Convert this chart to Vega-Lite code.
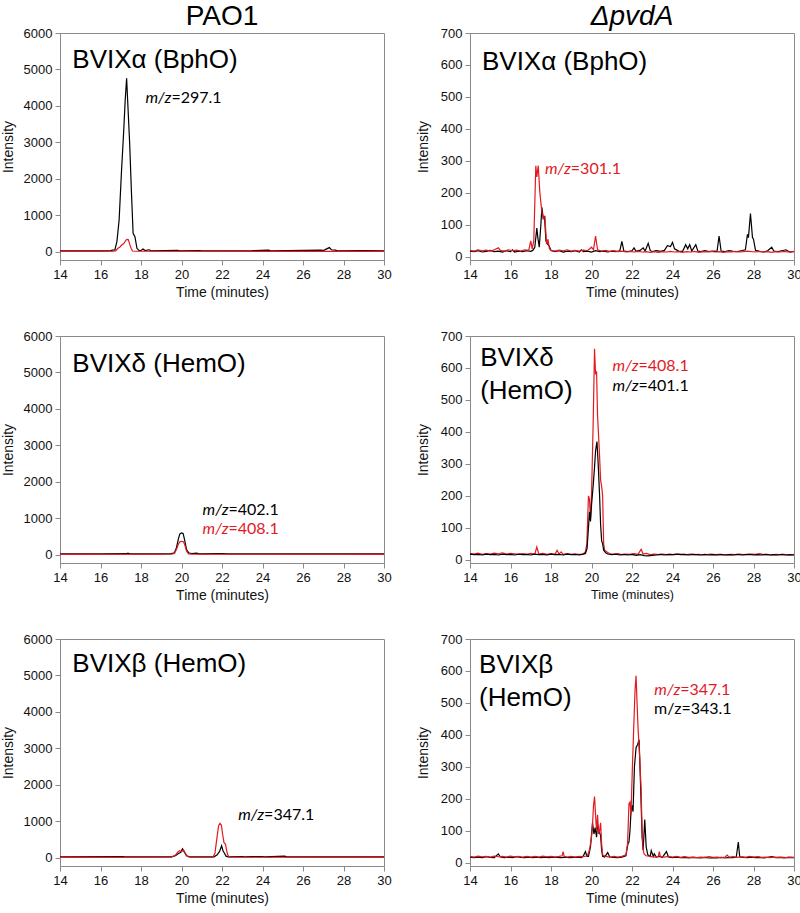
{
"$schema": "https://vega.github.io/schema/vega-lite/v6.json",
"background": "white",
"padding": {"left": 0, "top": 2, "right": 2, "bottom": 2},
"config": {
  "view": {"stroke": "#8a8a8a", "strokeWidth": 1},
  "axis": {"grid": false, "domainColor": "#8a8a8a", "tickColor": "#8a8a8a", "tickSize": 5, "labelFont": "Liberation Sans", "labelFontSize": 13, "labelColor": "#111", "titleFont": "Liberation Sans", "titleFontSize": 14, "titleFontWeight": "normal", "titleColor": "#111", "labelPadding": 3, "titlePadding": 8, "labelOverlap": false},
  "axisX": {"titlePadding": 4},
  "title": {"font": "Liberation Sans", "fontSize": 28, "fontWeight": "normal", "color": "#000", "anchor": "middle", "offset": -4}
},
"datasets": {
  "a1k": [{"t":14,"v":30},{"t":15,"v":30},{"t":16,"v":32},{"t":16.5,"v":35},{"t":16.6,"v":50},{"t":16.71,"v":55},{"t":16.81,"v":283},{"t":16.92,"v":877},{"t":17.04,"v":2247},{"t":17.14,"v":3252},{"t":17.22,"v":4164},{"t":17.29,"v":4759},{"t":17.34,"v":4164},{"t":17.44,"v":2978},{"t":17.53,"v":1608},{"t":17.61,"v":512},{"t":17.7,"v":420},{"t":17.8,"v":100},{"t":17.91,"v":36},{"t":18.0,"v":40},{"t":18.1,"v":80},{"t":18.2,"v":40},{"t":18.4,"v":60},{"t":18.5,"v":30},{"t":19.8,"v":45},{"t":19.9,"v":30},{"t":20.9,"v":40},{"t":21.0,"v":30},{"t":23.5,"v":35},{"t":24.3,"v":50},{"t":24.4,"v":30},{"t":26.9,"v":50},{"t":27.0,"v":40},{"t":27.3,"v":120},{"t":27.4,"v":60},{"t":27.6,"v":50},{"t":27.7,"v":30},{"t":29,"v":35},{"t":30,"v":30}],
  "a1r": [{"t":14,"v":18},{"t":16,"v":18},{"t":16.6,"v":20},{"t":16.75,"v":30},{"t":16.86,"v":100},{"t":16.95,"v":130},{"t":17.05,"v":190},{"t":17.15,"v":230},{"t":17.25,"v":320},{"t":17.3,"v":347},{"t":17.37,"v":340},{"t":17.45,"v":200},{"t":17.52,"v":90},{"t":17.58,"v":27},{"t":17.75,"v":20},{"t":30,"v":18}],
  "b1k": [{"t":14,"v":18},{"t":14.2,"v":16},{"t":14.4,"v":19},{"t":14.6,"v":15},{"t":14.8,"v":17},{"t":15.0,"v":20},{"t":15.2,"v":16},{"t":15.4,"v":18},{"t":15.6,"v":15},{"t":15.8,"v":19},{"t":16.0,"v":16},{"t":16.1,"v":22},{"t":16.2,"v":15},{"t":16.4,"v":18},{"t":16.6,"v":16},{"t":16.8,"v":19},{"t":17.0,"v":17},{"t":17.1,"v":20},{"t":17.2,"v":30},{"t":17.3,"v":90},{"t":17.35,"v":60},{"t":17.42,"v":30},{"t":17.5,"v":100},{"t":17.55,"v":155},{"t":17.62,"v":120},{"t":17.68,"v":125},{"t":17.75,"v":50},{"t":17.82,"v":40},{"t":17.9,"v":35},{"t":18.0,"v":20},{"t":18.2,"v":16},{"t":18.4,"v":19},{"t":18.6,"v":15},{"t":18.8,"v":18},{"t":19.0,"v":16},{"t":19.2,"v":19},{"t":19.4,"v":15},{"t":19.5,"v":22},{"t":19.6,"v":16},{"t":19.8,"v":18},{"t":20.0,"v":15},{"t":20.2,"v":19},{"t":20.4,"v":16},{"t":20.6,"v":18},{"t":20.8,"v":15},{"t":21.0,"v":18},{"t":21.2,"v":16},{"t":21.4,"v":19},{"t":21.5,"v":48},{"t":21.6,"v":18},{"t":21.8,"v":16},{"t":22.0,"v":19},{"t":22.1,"v":28},{"t":22.2,"v":17},{"t":22.4,"v":20},{"t":22.55,"v":28},{"t":22.65,"v":18},{"t":22.8,"v":42},{"t":22.9,"v":20},{"t":23.0,"v":16},{"t":23.2,"v":19},{"t":23.4,"v":17},{"t":23.6,"v":20},{"t":23.75,"v":35},{"t":23.9,"v":32},{"t":24.0,"v":45},{"t":24.1,"v":25},{"t":24.3,"v":18},{"t":24.5,"v":17},{"t":24.65,"v":38},{"t":24.75,"v":25},{"t":24.85,"v":38},{"t":24.95,"v":18},{"t":25.15,"v":38},{"t":25.25,"v":18},{"t":25.4,"v":16},{"t":25.6,"v":19},{"t":25.8,"v":16},{"t":26.0,"v":18},{"t":26.2,"v":17},{"t":26.3,"v":65},{"t":26.4,"v":18},{"t":26.6,"v":16},{"t":26.8,"v":19},{"t":27.0,"v":17},{"t":27.2,"v":16},{"t":27.4,"v":19},{"t":27.6,"v":22},{"t":27.7,"v":70},{"t":27.75,"v":60},{"t":27.85,"v":135},{"t":27.95,"v":60},{"t":28.0,"v":55},{"t":28.1,"v":20},{"t":28.3,"v":17},{"t":28.5,"v":15},{"t":28.7,"v":19},{"t":28.9,"v":30},{"t":29.0,"v":18},{"t":29.2,"v":16},{"t":29.4,"v":19},{"t":29.6,"v":22},{"t":29.7,"v":18},{"t":29.8,"v":15},{"t":30.0,"v":17}],
  "b1r": [{"t":14,"v":20},{"t":14.2,"v":18},{"t":14.4,"v":22},{"t":14.6,"v":19},{"t":14.8,"v":21},{"t":15.0,"v":18},{"t":15.2,"v":22},{"t":15.4,"v":28},{"t":15.5,"v":20},{"t":15.7,"v":18},{"t":15.9,"v":22},{"t":16.1,"v":19},{"t":16.3,"v":21},{"t":16.5,"v":18},{"t":16.7,"v":22},{"t":16.9,"v":20},{"t":17.0,"v":50},{"t":17.07,"v":25},{"t":17.15,"v":50},{"t":17.25,"v":285},{"t":17.3,"v":250},{"t":17.37,"v":285},{"t":17.45,"v":200},{"t":17.55,"v":140},{"t":17.62,"v":120},{"t":17.7,"v":125},{"t":17.78,"v":40},{"t":17.85,"v":55},{"t":17.92,"v":25},{"t":18.0,"v":20},{"t":18.2,"v":18},{"t":18.4,"v":21},{"t":18.6,"v":19},{"t":18.8,"v":22},{"t":19.0,"v":18},{"t":19.2,"v":20},{"t":19.4,"v":18},{"t":19.6,"v":21},{"t":19.8,"v":19},{"t":20.0,"v":30},{"t":20.1,"v":22},{"t":20.2,"v":65},{"t":20.3,"v":22},{"t":20.5,"v":18},{"t":20.7,"v":20},{"t":20.9,"v":17},{"t":21.1,"v":19},{"t":21.3,"v":16},{"t":21.5,"v":18},{"t":21.7,"v":15},{"t":21.9,"v":17},{"t":22.1,"v":15},{"t":22.3,"v":17},{"t":22.5,"v":15},{"t":22.7,"v":16},{"t":22.9,"v":14},{"t":23.1,"v":16},{"t":23.3,"v":14},{"t":23.5,"v":16},{"t":23.7,"v":15},{"t":23.9,"v":17},{"t":24.1,"v":15},{"t":24.3,"v":16},{"t":24.5,"v":14},{"t":24.7,"v":16},{"t":24.9,"v":15},{"t":25.1,"v":17},{"t":25.3,"v":14},{"t":25.5,"v":16},{"t":25.7,"v":15},{"t":25.9,"v":17},{"t":26.1,"v":15},{"t":26.3,"v":16},{"t":26.5,"v":14},{"t":26.7,"v":16},{"t":26.9,"v":15},{"t":27.1,"v":17},{"t":27.3,"v":15},{"t":27.5,"v":16},{"t":27.7,"v":18},{"t":27.9,"v":16},{"t":28.1,"v":15},{"t":28.3,"v":17},{"t":28.5,"v":15},{"t":28.7,"v":16},{"t":28.9,"v":14},{"t":29.1,"v":16},{"t":29.3,"v":15},{"t":29.5,"v":17},{"t":29.7,"v":15},{"t":30.0,"v":16}],
  "a2k": [{"t":14,"v":30},{"t":16,"v":30},{"t":17.3,"v":35},{"t":17.35,"v":50},{"t":17.45,"v":30},{"t":19.0,"v":30},{"t":19.5,"v":35},{"t":19.65,"v":60},{"t":19.75,"v":200},{"t":19.85,"v":450},{"t":19.92,"v":580},{"t":20.0,"v":605},{"t":20.08,"v":590},{"t":20.15,"v":420},{"t":20.25,"v":150},{"t":20.35,"v":60},{"t":20.5,"v":40},{"t":20.75,"v":50},{"t":20.85,"v":30},{"t":21.8,"v":35},{"t":22.1,"v":40},{"t":22.2,"v":30},{"t":30,"v":30}],
  "a2r": [{"t":14,"v":18},{"t":19.5,"v":20},{"t":19.65,"v":40},{"t":19.75,"v":150},{"t":19.85,"v":300},{"t":19.92,"v":360},{"t":20.0,"v":375},{"t":20.08,"v":370},{"t":20.15,"v":300},{"t":20.25,"v":100},{"t":20.35,"v":30},{"t":20.5,"v":20},{"t":30,"v":18}],
  "b2k": [{"t":14,"v":18},{"t":14.2,"v":16},{"t":14.4,"v":17},{"t":14.6,"v":15},{"t":14.8,"v":18},{"t":15.0,"v":16},{"t":15.2,"v":17},{"t":15.4,"v":15},{"t":15.6,"v":18},{"t":15.8,"v":16},{"t":16.0,"v":17},{"t":16.2,"v":15},{"t":16.4,"v":18},{"t":16.6,"v":16},{"t":16.8,"v":17},{"t":17.0,"v":15},{"t":17.2,"v":18},{"t":17.4,"v":16},{"t":17.6,"v":17},{"t":17.8,"v":15},{"t":18.0,"v":18},{"t":18.2,"v":16},{"t":18.4,"v":17},{"t":18.6,"v":15},{"t":18.8,"v":18},{"t":19.0,"v":16},{"t":19.2,"v":17},{"t":19.4,"v":15},{"t":19.6,"v":18},{"t":19.7,"v":20},{"t":19.78,"v":35},{"t":19.85,"v":100},{"t":19.9,"v":150},{"t":19.95,"v":120},{"t":20.0,"v":170},{"t":20.08,"v":230},{"t":20.15,"v":290},{"t":20.2,"v":340},{"t":20.27,"v":370},{"t":20.33,"v":300},{"t":20.4,"v":200},{"t":20.45,"v":110},{"t":20.5,"v":60},{"t":20.55,"v":50},{"t":20.6,"v":30},{"t":20.7,"v":22},{"t":20.8,"v":18},{"t":21.0,"v":16},{"t":21.2,"v":18},{"t":21.4,"v":15},{"t":21.6,"v":17},{"t":21.8,"v":15},{"t":22.0,"v":17},{"t":22.2,"v":14},{"t":22.4,"v":16},{"t":22.6,"v":13},{"t":22.8,"v":12},{"t":23.0,"v":14},{"t":23.2,"v":15},{"t":23.4,"v":17},{"t":23.6,"v":15},{"t":23.8,"v":17},{"t":24.0,"v":16},{"t":24.2,"v":18},{"t":24.4,"v":16},{"t":24.6,"v":17},{"t":24.8,"v":15},{"t":25.0,"v":17},{"t":25.2,"v":16},{"t":25.4,"v":15},{"t":25.6,"v":17},{"t":25.8,"v":15},{"t":26.0,"v":16},{"t":26.2,"v":15},{"t":26.4,"v":17},{"t":26.6,"v":15},{"t":26.8,"v":16},{"t":27.0,"v":15},{"t":27.2,"v":17},{"t":27.4,"v":15},{"t":27.6,"v":16},{"t":27.8,"v":17},{"t":28.0,"v":15},{"t":28.2,"v":16},{"t":28.4,"v":15},{"t":28.6,"v":17},{"t":28.8,"v":15},{"t":29.0,"v":16},{"t":29.2,"v":15},{"t":29.4,"v":17},{"t":29.6,"v":15},{"t":29.8,"v":16},{"t":30,"v":15}],
  "b2r": [{"t":14,"v":20},{"t":14.2,"v":18},{"t":14.4,"v":21},{"t":14.6,"v":17},{"t":14.8,"v":19},{"t":15.0,"v":18},{"t":15.2,"v":21},{"t":15.4,"v":19},{"t":15.6,"v":22},{"t":15.8,"v":18},{"t":16.0,"v":20},{"t":16.2,"v":19},{"t":16.4,"v":17},{"t":16.6,"v":19},{"t":16.8,"v":17},{"t":17.0,"v":20},{"t":17.2,"v":18},{"t":17.3,"v":40},{"t":17.4,"v":18},{"t":17.6,"v":20},{"t":17.8,"v":17},{"t":18.0,"v":19},{"t":18.2,"v":17},{"t":18.3,"v":30},{"t":18.4,"v":18},{"t":18.5,"v":25},{"t":18.6,"v":17},{"t":18.8,"v":19},{"t":19.0,"v":17},{"t":19.2,"v":18},{"t":19.4,"v":17},{"t":19.6,"v":19},{"t":19.7,"v":25},{"t":19.77,"v":50},{"t":19.85,"v":200},{"t":19.9,"v":190},{"t":19.95,"v":130},{"t":20.0,"v":200},{"t":20.08,"v":420},{"t":20.15,"v":660},{"t":20.2,"v":580},{"t":20.25,"v":590},{"t":20.3,"v":450},{"t":20.38,"v":350},{"t":20.45,"v":250},{"t":20.5,"v":230},{"t":20.55,"v":200},{"t":20.6,"v":50},{"t":20.65,"v":30},{"t":20.75,"v":25},{"t":20.9,"v":19},{"t":21.1,"v":17},{"t":21.3,"v":19},{"t":21.5,"v":16},{"t":21.7,"v":18},{"t":21.9,"v":17},{"t":22.1,"v":19},{"t":22.3,"v":17},{"t":22.45,"v":33},{"t":22.55,"v":18},{"t":22.7,"v":20},{"t":22.9,"v":16},{"t":23.1,"v":18},{"t":23.3,"v":16},{"t":23.5,"v":18},{"t":23.7,"v":16},{"t":23.9,"v":17},{"t":24.1,"v":16},{"t":24.3,"v":18},{"t":24.5,"v":17},{"t":24.7,"v":16},{"t":24.9,"v":18},{"t":25.1,"v":16},{"t":25.3,"v":17},{"t":25.5,"v":15},{"t":25.7,"v":16},{"t":25.9,"v":18},{"t":26.1,"v":16},{"t":26.3,"v":17},{"t":26.5,"v":15},{"t":26.7,"v":16},{"t":26.9,"v":17},{"t":27.1,"v":16},{"t":27.3,"v":18},{"t":27.5,"v":16},{"t":27.7,"v":17},{"t":27.9,"v":18},{"t":28.1,"v":17},{"t":28.3,"v":19},{"t":28.5,"v":16},{"t":28.7,"v":17},{"t":28.9,"v":15},{"t":29.1,"v":17},{"t":29.3,"v":16},{"t":29.5,"v":17},{"t":29.7,"v":15},{"t":30,"v":16}],
  "a3k": [{"t":14,"v":30},{"t":17.1,"v":35},{"t":17.2,"v":30},{"t":19.5,"v":30},{"t":19.7,"v":60},{"t":19.85,"v":120},{"t":19.95,"v":150},{"t":20.05,"v":250},{"t":20.15,"v":150},{"t":20.25,"v":60},{"t":20.4,"v":30},{"t":21.6,"v":30},{"t":21.75,"v":80},{"t":21.88,"v":180},{"t":21.98,"v":335},{"t":22.05,"v":200},{"t":22.12,"v":130},{"t":22.2,"v":50},{"t":22.3,"v":30},{"t":23.0,"v":40},{"t":23.1,"v":30},{"t":23.5,"v":35},{"t":24.0,"v":40},{"t":24.1,"v":30},{"t":25.1,"v":50},{"t":25.2,"v":30},{"t":30,"v":30}],
  "a3r": [{"t":14,"v":18},{"t":19.5,"v":20},{"t":19.7,"v":80},{"t":19.8,"v":150},{"t":19.9,"v":200},{"t":20.0,"v":170},{"t":20.1,"v":220},{"t":20.2,"v":120},{"t":20.3,"v":40},{"t":20.45,"v":20},{"t":21.45,"v":20},{"t":21.55,"v":25},{"t":21.65,"v":120},{"t":21.75,"v":550},{"t":21.83,"v":880},{"t":21.9,"v":950},{"t":21.97,"v":900},{"t":22.03,"v":650},{"t":22.1,"v":420},{"t":22.17,"v":380},{"t":22.25,"v":150},{"t":22.32,"v":40},{"t":22.4,"v":20},{"t":30,"v":18}],
  "b3k": [{"t":14,"v":18},{"t":14.2,"v":16},{"t":14.4,"v":18},{"t":14.6,"v":16},{"t":14.8,"v":19},{"t":15.0,"v":17},{"t":15.2,"v":16},{"t":15.4,"v":28},{"t":15.5,"v":18},{"t":15.7,"v":16},{"t":15.9,"v":18},{"t":16.1,"v":16},{"t":16.3,"v":19},{"t":16.5,"v":17},{"t":16.7,"v":16},{"t":16.9,"v":18},{"t":17.1,"v":16},{"t":17.3,"v":18},{"t":17.5,"v":16},{"t":17.7,"v":18},{"t":17.9,"v":16},{"t":18.1,"v":18},{"t":18.3,"v":17},{"t":18.5,"v":16},{"t":18.7,"v":18},{"t":18.9,"v":16},{"t":19.1,"v":17},{"t":19.3,"v":18},{"t":19.5,"v":16},{"t":19.6,"v":22},{"t":19.7,"v":35},{"t":19.78,"v":20},{"t":19.85,"v":20},{"t":19.95,"v":50},{"t":20.05,"v":125},{"t":20.12,"v":90},{"t":20.18,"v":110},{"t":20.25,"v":80},{"t":20.3,"v":120},{"t":20.37,"v":100},{"t":20.45,"v":85},{"t":20.5,"v":40},{"t":20.55,"v":20},{"t":20.65,"v":18},{"t":20.8,"v":32},{"t":20.9,"v":18},{"t":21.1,"v":17},{"t":21.3,"v":16},{"t":21.5,"v":18},{"t":21.7,"v":22},{"t":21.8,"v":60},{"t":21.85,"v":65},{"t":21.9,"v":100},{"t":21.95,"v":160},{"t":22.0,"v":180},{"t":22.05,"v":160},{"t":22.12,"v":300},{"t":22.2,"v":360},{"t":22.28,"v":370},{"t":22.35,"v":385},{"t":22.42,"v":250},{"t":22.5,"v":80},{"t":22.55,"v":40},{"t":22.63,"v":135},{"t":22.7,"v":50},{"t":22.78,"v":25},{"t":22.9,"v":20},{"t":22.95,"v":38},{"t":23.05,"v":20},{"t":23.1,"v":28},{"t":23.2,"v":18},{"t":23.35,"v":20},{"t":23.5,"v":17},{"t":23.7,"v":35},{"t":23.8,"v":18},{"t":24.0,"v":16},{"t":24.2,"v":18},{"t":24.4,"v":16},{"t":24.6,"v":17},{"t":24.8,"v":15},{"t":25.0,"v":17},{"t":25.2,"v":16},{"t":25.4,"v":15},{"t":25.6,"v":17},{"t":25.8,"v":15},{"t":26.0,"v":16},{"t":26.2,"v":15},{"t":26.4,"v":17},{"t":26.6,"v":15},{"t":26.8,"v":17},{"t":27.0,"v":16},{"t":27.15,"v":18},{"t":27.25,"v":65},{"t":27.32,"v":18},{"t":27.5,"v":17},{"t":27.7,"v":16},{"t":27.9,"v":18},{"t":28.1,"v":16},{"t":28.3,"v":17},{"t":28.5,"v":15},{"t":28.7,"v":17},{"t":28.9,"v":19},{"t":29.1,"v":16},{"t":29.3,"v":17},{"t":29.5,"v":15},{"t":29.7,"v":17},{"t":30,"v":16}],
  "b3r": [{"t":14,"v":20},{"t":14.2,"v":18},{"t":14.4,"v":21},{"t":14.6,"v":19},{"t":14.8,"v":20},{"t":15.0,"v":18},{"t":15.2,"v":21},{"t":15.4,"v":19},{"t":15.6,"v":20},{"t":15.8,"v":18},{"t":16.0,"v":21},{"t":16.2,"v":19},{"t":16.4,"v":20},{"t":16.6,"v":18},{"t":16.8,"v":20},{"t":17.0,"v":18},{"t":17.2,"v":20},{"t":17.4,"v":18},{"t":17.6,"v":21},{"t":17.8,"v":19},{"t":18.0,"v":20},{"t":18.2,"v":18},{"t":18.4,"v":20},{"t":18.55,"v":22},{"t":18.6,"v":35},{"t":18.65,"v":20},{"t":18.8,"v":18},{"t":19.0,"v":20},{"t":19.2,"v":18},{"t":19.4,"v":20},{"t":19.6,"v":19},{"t":19.8,"v":22},{"t":19.9,"v":40},{"t":20.0,"v":80},{"t":20.05,"v":120},{"t":20.1,"v":180},{"t":20.15,"v":207},{"t":20.2,"v":150},{"t":20.25,"v":100},{"t":20.3,"v":150},{"t":20.35,"v":90},{"t":20.4,"v":100},{"t":20.45,"v":125},{"t":20.5,"v":60},{"t":20.55,"v":25},{"t":20.7,"v":20},{"t":20.9,"v":18},{"t":21.1,"v":20},{"t":21.3,"v":18},{"t":21.5,"v":20},{"t":21.7,"v":25},{"t":21.78,"v":60},{"t":21.85,"v":185},{"t":21.9,"v":190},{"t":21.95,"v":150},{"t":22.02,"v":300},{"t":22.1,"v":450},{"t":22.15,"v":540},{"t":22.2,"v":585},{"t":22.25,"v":500},{"t":22.3,"v":420},{"t":22.38,"v":330},{"t":22.45,"v":230},{"t":22.5,"v":100},{"t":22.55,"v":40},{"t":22.6,"v":28},{"t":22.7,"v":22},{"t":22.9,"v":20},{"t":23.1,"v":18},{"t":23.3,"v":20},{"t":23.35,"v":35},{"t":23.4,"v":20},{"t":23.6,"v":18},{"t":23.8,"v":20},{"t":24.0,"v":18},{"t":24.2,"v":20},{"t":24.4,"v":17},{"t":24.6,"v":19},{"t":24.8,"v":17},{"t":25.0,"v":18},{"t":25.2,"v":16},{"t":25.4,"v":18},{"t":25.6,"v":17},{"t":25.8,"v":19},{"t":26.0,"v":17},{"t":26.2,"v":18},{"t":26.4,"v":16},{"t":26.6,"v":18},{"t":26.7,"v":24},{"t":26.8,"v":17},{"t":27.0,"v":19},{"t":27.2,"v":17},{"t":27.4,"v":19},{"t":27.6,"v":17},{"t":27.8,"v":20},{"t":28.0,"v":18},{"t":28.2,"v":19},{"t":28.4,"v":17},{"t":28.6,"v":18},{"t":28.8,"v":16},{"t":29.0,"v":18},{"t":29.2,"v":17},{"t":29.4,"v":18},{"t":29.6,"v":16},{"t":29.8,"v":18},{"t":30,"v":17}]
},
"columns": 2,
"spacing": {"row": 76, "column": 86},
"bounds": "flush",
"concat": [
 {
  "title": {"text": "PAO1"},
  "width": 324, "height": 227,
  "encoding": {
   "x": {"field": "t", "type": "quantitative", "scale": {"domain": [14, 30], "nice": false, "zero": false}, "axis": {"values": [14,16,18,20,22,24,26,28,30], "title": "Time (minutes)", "labelFlush": false, "labelOverlap": false}},
   "y": {"field": "v", "type": "quantitative", "scale": {"domain": [-220, 6000], "nice": false, "zero": false}, "axis": {"values": [0,1000,2000,3000,4000,5000,6000], "title": "Intensity", "format": "d", "labelOverlap": false}}
  },
  "layer": [
   {"data": {"name": "a1k"}, "mark": {"type": "line", "color": "#000", "strokeWidth": 1.2}},
   {"data": {"name": "a1r"}, "mark": {"type": "line", "color": "#e3191f", "strokeWidth": 1.2}},
   {"data": {"values": [{"t": 14.61, "v": 5030, "label": "BVIXα (BphO)"}]}, "mark": {"type": "text", "align": "left", "baseline": "alphabetic", "font": "Liberation Sans", "fontSize": 26, "color": "#000"},
    "encoding": {"text": {"field": "label"}}},
   {"data": {"values": [{"t": 19.5, "v": 4090, "label": "m/z", "ion": "unlabeled"}]}, "mark": {"type": "text", "align": "right", "baseline": "alphabetic", "font": "Lato", "fontSize": 16, "fontStyle": "italic"},
    "encoding": {"text": {"field": "label"}, "color": {"field": "ion", "type": "nominal", "scale": {"domain": ["unlabeled", "labeled"], "range": ["#000000", "#e3191f"]}, "legend": null}}},
   {"data": {"values": [{"t": 19.5, "v": 4090, "label": "=297.1", "ion": "unlabeled"}]}, "mark": {"type": "text", "align": "left", "baseline": "alphabetic", "font": "Lato", "fontSize": 16},
    "encoding": {"text": {"field": "label"}, "color": {"field": "ion", "type": "nominal", "scale": {"domain": ["unlabeled", "labeled"], "range": ["#000000", "#e3191f"]}, "legend": null}}}
  ]
 },
 {
  "title": {"text": "ΔpvdA", "fontStyle": "italic"},
  "width": 324, "height": 227,
  "encoding": {
   "x": {"field": "t", "type": "quantitative", "scale": {"domain": [14, 30], "nice": false, "zero": false}, "axis": {"values": [14,16,18,20,22,24,26,28,30], "title": "Time (minutes)", "labelFlush": false, "labelOverlap": false}},
   "y": {"field": "v", "type": "quantitative", "scale": {"domain": [-10, 700], "nice": false, "zero": false}, "axis": {"values": [0,100,200,300,400,500,600,700], "title": "Intensity", "format": "d", "titlePadding": 10, "labelOverlap": false}}
  },
  "layer": [
   {"data": {"name": "b1k"}, "mark": {"type": "line", "color": "#000", "strokeWidth": 1.2}},
   {"data": {"name": "b1r"}, "mark": {"type": "line", "color": "#e3191f", "strokeWidth": 1.2}},
   {"data": {"values": [{"t": 14.59, "v": 584, "label": "BVIXα (BphO)"}]}, "mark": {"type": "text", "align": "left", "baseline": "alphabetic", "font": "Liberation Sans", "fontSize": 26, "color": "#000"},
    "encoding": {"text": {"field": "label"}}},
   {"data": {"values": [{"t": 18.98, "v": 259, "label": "m/z", "ion": "labeled"}]}, "mark": {"type": "text", "align": "right", "baseline": "alphabetic", "font": "Lato", "fontSize": 16, "fontStyle": "italic"},
    "encoding": {"text": {"field": "label"}, "color": {"field": "ion", "type": "nominal", "scale": {"domain": ["unlabeled", "labeled"], "range": ["#000000", "#e3191f"]}, "legend": null}}},
   {"data": {"values": [{"t": 18.98, "v": 259, "label": "=301.1", "ion": "labeled"}]}, "mark": {"type": "text", "align": "left", "baseline": "alphabetic", "font": "Lato", "fontSize": 16},
    "encoding": {"text": {"field": "label"}, "color": {"field": "ion", "type": "nominal", "scale": {"domain": ["unlabeled", "labeled"], "range": ["#000000", "#e3191f"]}, "legend": null}}}
  ]
 },
 {
  "width": 324, "height": 227,
  "encoding": {
   "x": {"field": "t", "type": "quantitative", "scale": {"domain": [14, 30], "nice": false, "zero": false}, "axis": {"values": [14,16,18,20,22,24,26,28,30], "title": "Time (minutes)", "labelFlush": false, "labelOverlap": false}},
   "y": {"field": "v", "type": "quantitative", "scale": {"domain": [-220, 6000], "nice": false, "zero": false}, "axis": {"values": [0,1000,2000,3000,4000,5000,6000], "title": "Intensity", "format": "d", "labelOverlap": false}}
  },
  "layer": [
   {"data": {"name": "a2k"}, "mark": {"type": "line", "color": "#000", "strokeWidth": 1.2}},
   {"data": {"name": "a2r"}, "mark": {"type": "line", "color": "#e3191f", "strokeWidth": 1.2}},
   {"data": {"values": [{"t": 14.61, "v": 5023, "label": "BVIXδ (HemO)"}]}, "mark": {"type": "text", "align": "left", "baseline": "alphabetic", "font": "Liberation Sans", "fontSize": 26, "color": "#000"},
    "encoding": {"text": {"field": "label"}}},
   {"data": {"values": [{"t": 22.32, "v": 1103, "label": "m/z", "ion": "unlabeled"}, {"t": 22.32, "v": 575, "label": "m/z", "ion": "labeled"}]}, "mark": {"type": "text", "align": "right", "baseline": "alphabetic", "font": "Lato", "fontSize": 16, "fontStyle": "italic"},
    "encoding": {"text": {"field": "label"}, "color": {"field": "ion", "type": "nominal", "scale": {"domain": ["unlabeled", "labeled"], "range": ["#000000", "#e3191f"]}, "legend": null}}},
   {"data": {"values": [{"t": 22.32, "v": 1103, "label": "=402.1", "ion": "unlabeled"}, {"t": 22.32, "v": 575, "label": "=408.1", "ion": "labeled"}]}, "mark": {"type": "text", "align": "left", "baseline": "alphabetic", "font": "Lato", "fontSize": 16},
    "encoding": {"text": {"field": "label"}, "color": {"field": "ion", "type": "nominal", "scale": {"domain": ["unlabeled", "labeled"], "range": ["#000000", "#e3191f"]}, "legend": null}}}
  ]
 },
 {
  "width": 324, "height": 227,
  "encoding": {
   "x": {"field": "t", "type": "quantitative", "scale": {"domain": [14, 30], "nice": false, "zero": false}, "axis": {"values": [14,16,18,20,22,24,26,28,30], "title": "Time (minutes)", "labelFlush": false, "titleFontSize": 12.5, "labelOverlap": false}},
   "y": {"field": "v", "type": "quantitative", "scale": {"domain": [-10, 700], "nice": false, "zero": false}, "axis": {"values": [0,100,200,300,400,500,600,700], "title": "Intensity", "format": "d", "titlePadding": 10, "labelOverlap": false}}
  },
  "layer": [
   {"data": {"name": "b2r"}, "mark": {"type": "line", "color": "#e3191f", "strokeWidth": 1.2}},
   {"data": {"name": "b2k"}, "mark": {"type": "line", "color": "#000", "strokeWidth": 1.2}},
   {"data": {"values": [{"t": 14.5, "v": 607, "label": "BVIXδ"}, {"t": 14.5, "v": 502, "label": "(HemO)"}]}, "mark": {"type": "text", "align": "left", "baseline": "alphabetic", "font": "Liberation Sans", "fontSize": 26, "color": "#000"},
    "encoding": {"text": {"field": "label"}}},
   {"data": {"values": [{"t": 22.32, "v": 590, "label": "m/z", "ion": "labeled"}, {"t": 22.32, "v": 527, "label": "m/z", "ion": "unlabeled"}]}, "mark": {"type": "text", "align": "right", "baseline": "alphabetic", "font": "Lato", "fontSize": 16, "fontStyle": "italic"},
    "encoding": {"text": {"field": "label"}, "color": {"field": "ion", "type": "nominal", "scale": {"domain": ["unlabeled", "labeled"], "range": ["#000000", "#e3191f"]}, "legend": null}}},
   {"data": {"values": [{"t": 22.32, "v": 590, "label": "=408.1", "ion": "labeled"}, {"t": 22.32, "v": 527, "label": "=401.1", "ion": "unlabeled"}]}, "mark": {"type": "text", "align": "left", "baseline": "alphabetic", "font": "Lato", "fontSize": 16},
    "encoding": {"text": {"field": "label"}, "color": {"field": "ion", "type": "nominal", "scale": {"domain": ["unlabeled", "labeled"], "range": ["#000000", "#e3191f"]}, "legend": null}}}
  ]
 },
 {
  "width": 324, "height": 227,
  "encoding": {
   "x": {"field": "t", "type": "quantitative", "scale": {"domain": [14, 30], "nice": false, "zero": false}, "axis": {"values": [14,16,18,20,22,24,26,28,30], "title": "Time (minutes)", "labelFlush": false, "labelOverlap": false}},
   "y": {"field": "v", "type": "quantitative", "scale": {"domain": [-220, 6000], "nice": false, "zero": false}, "axis": {"values": [0,1000,2000,3000,4000,5000,6000], "title": "Intensity", "format": "d", "labelOverlap": false}}
  },
  "layer": [
   {"data": {"name": "a3k"}, "mark": {"type": "line", "color": "#000", "strokeWidth": 1.2}},
   {"data": {"name": "a3r"}, "mark": {"type": "line", "color": "#e3191f", "strokeWidth": 1.2}},
   {"data": {"values": [{"t": 14.61, "v": 5085, "label": "BVIXβ (HemO)"}]}, "mark": {"type": "text", "align": "left", "baseline": "alphabetic", "font": "Liberation Sans", "fontSize": 26, "color": "#000"},
    "encoding": {"text": {"field": "label"}}},
   {"data": {"values": [{"t": 24.08, "v": 1041, "label": "m/z", "ion": "unlabeled"}]}, "mark": {"type": "text", "align": "right", "baseline": "alphabetic", "font": "Lato", "fontSize": 16, "fontStyle": "italic"},
    "encoding": {"text": {"field": "label"}, "color": {"field": "ion", "type": "nominal", "scale": {"domain": ["unlabeled", "labeled"], "range": ["#000000", "#e3191f"]}, "legend": null}}},
   {"data": {"values": [{"t": 24.08, "v": 1041, "label": "=347.1", "ion": "unlabeled"}]}, "mark": {"type": "text", "align": "left", "baseline": "alphabetic", "font": "Lato", "fontSize": 16},
    "encoding": {"text": {"field": "label"}, "color": {"field": "ion", "type": "nominal", "scale": {"domain": ["unlabeled", "labeled"], "range": ["#000000", "#e3191f"]}, "legend": null}}}
  ]
 },
 {
  "width": 324, "height": 227,
  "encoding": {
   "x": {"field": "t", "type": "quantitative", "scale": {"domain": [14, 30], "nice": false, "zero": false}, "axis": {"values": [14,16,18,20,22,24,26,28,30], "title": "Time (minutes)", "labelFlush": false, "labelOverlap": false}},
   "y": {"field": "v", "type": "quantitative", "scale": {"domain": [-10, 700], "nice": false, "zero": false}, "axis": {"values": [0,100,200,300,400,500,600,700], "title": "Intensity", "format": "d", "titlePadding": 10, "labelOverlap": false}}
  },
  "layer": [
   {"data": {"name": "b3k"}, "mark": {"type": "line", "color": "#000", "strokeWidth": 1.2}},
   {"data": {"name": "b3r"}, "mark": {"type": "line", "color": "#e3191f", "strokeWidth": 1.2}},
   {"data": {"values": [{"t": 14.45, "v": 595, "label": "BVIXβ"}, {"t": 14.45, "v": 491, "label": "(HemO)"}]}, "mark": {"type": "text", "align": "left", "baseline": "alphabetic", "font": "Liberation Sans", "fontSize": 26, "color": "#000"},
    "encoding": {"text": {"field": "label"}}},
   {"data": {"values": [{"t": 24.38, "v": 525, "label": "m/z", "ion": "labeled"}]}, "mark": {"type": "text", "align": "right", "baseline": "alphabetic", "font": "Lato", "fontSize": 16, "fontStyle": "italic"},
    "encoding": {"text": {"field": "label"}, "color": {"field": "ion", "type": "nominal", "scale": {"domain": ["unlabeled", "labeled"], "range": ["#000000", "#e3191f"]}, "legend": null}}},
   {"data": {"values": [{"t": 24.38, "v": 525, "label": "=347.1", "ion": "labeled"}, {"t": 23.09, "v": 464, "label": "m/z=343.1", "ion": "unlabeled"}]}, "mark": {"type": "text", "align": "left", "baseline": "alphabetic", "font": "Lato", "fontSize": 16},
    "encoding": {"text": {"field": "label"}, "color": {"field": "ion", "type": "nominal", "scale": {"domain": ["unlabeled", "labeled"], "range": ["#000000", "#e3191f"]}, "legend": null}}}
  ]
 }
]
}
